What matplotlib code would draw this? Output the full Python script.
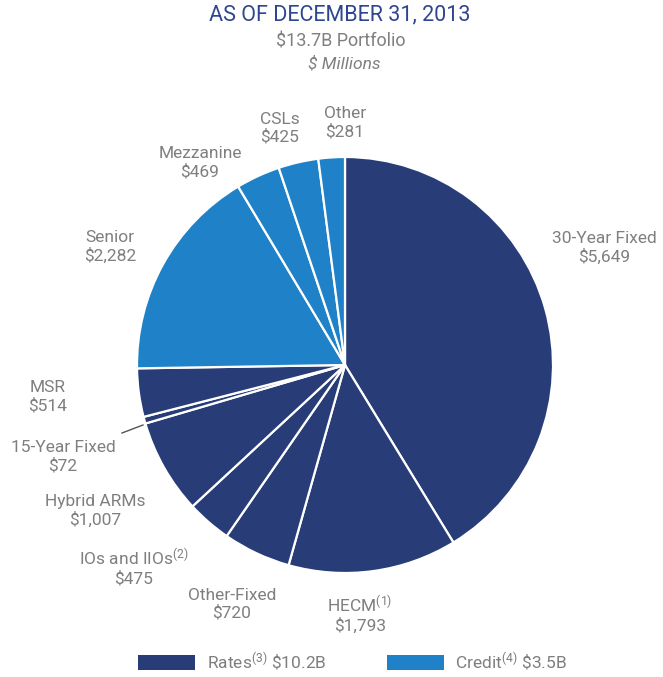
import matplotlib
matplotlib.use("Agg")
import matplotlib.pyplot as plt
from matplotlib.patches import Rectangle

plt.rcParams['font.family'] = ['Roboto', 'DejaVu Sans']
plt.rcParams['mathtext.default'] = 'regular'

# ---------------------------------
# Data ($ millions), clockwise from 12 o'clock
# ---------------------------------
labels = ["30-Year Fixed", "HECM$^{(1)}$", "Other-Fixed", "IOs and IIOs$^{(2)}$",
          "Hybrid ARMs", "15-Year Fixed", "MSR",
          "Senior", "Mezzanine", "CSLs", "Other"]
values = [5649, 1793, 720, 475, 1007, 72, 514, 2282, 469, 425, 281]
groups = ["Rates"] * 7 + ["Credit"] * 4

legend_names = ["Rates$^{(3)}$ \\$10.2B", "Credit$^{(4)}$ \\$3.5B"]

NAVY = "#283c78"
LIGHT = "#1f82c8"
GREY = "#7f7f7f"
TITLE = "#2e4590"

W, H = 663, 677
fig = plt.figure(figsize=(W / 100, H / 100), dpi=100)
ax = fig.add_axes([0, 0, 1, 1])


def py(y):
    # pixel row -> data y
    return H - y


colors = [NAVY if g == "Rates" else LIGHT for g in groups]
wedges, _ = ax.pie(values, colors=colors, startangle=90, counterclock=False,
                   center=(345, py(365)), radius=208, frame=True,
                   wedgeprops=dict(edgecolor="white", linewidth=1.6))
ax.set_xlim(0, W)
ax.set_ylim(0, H)
ax.set_aspect("equal")
ax.axis("off")

# label anchor points (pixel coords)
label_pos = [(604, 248), (360, 614), (232, 604), (134, 567), (95, 511),
             (63, 457), (48, 397), (110, 247), (200, 163), (280, 128), (345, 123)]

for name, v, (x, y) in zip(labels, values, label_pos):
    ax.text(x, py(y), f"{name}\n${v:,}", ha="center", va="center",
            fontsize=12.5, color=GREY, linespacing=1.2)

# leader line for the small slice
ax.plot([122, 143], [py(433), py(425)], color="#555555", lw=1)

# titles
ax.text(340, py(15), "AS OF DECEMBER 31, 2013", ha="center", va="center",
        fontsize=15.5, color=TITLE)
ax.text(341, py(42), "\\$13.7B Portfolio", ha="center", va="center",
        fontsize=13, color=GREY)
ax.text(344, py(64), "\\$ Millions", ha="center", va="center",
        fontsize=12.5, color=GREY, style="italic")

# legend
for (bx, tx), name, c in zip([(138, 207), (387, 455)], legend_names, [NAVY, LIGHT]):
    ax.add_patch(Rectangle((bx, py(670)), 57, 15, facecolor=c, edgecolor="none"))
    ax.text(tx, py(662), name, ha="left", va="center", fontsize=12.5, color=GREY)

fig.savefig("out.png", dpi=100)
